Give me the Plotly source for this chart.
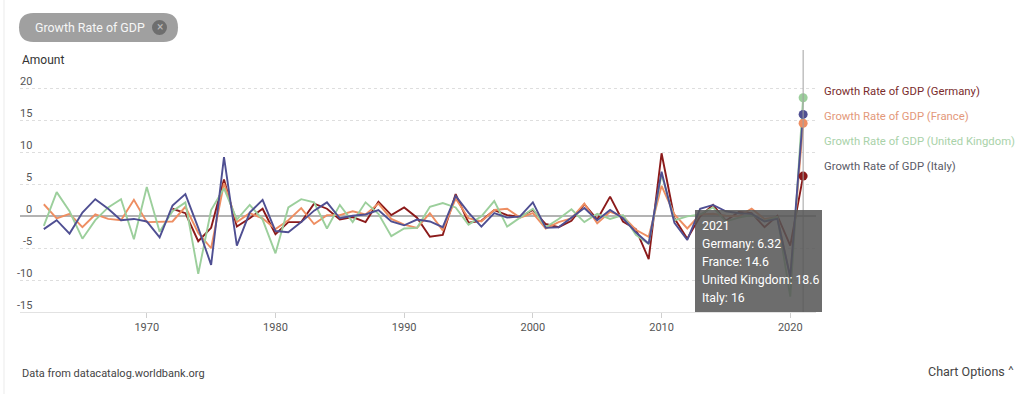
import plotly.graph_objects as go

# ---------------- data ----------------
years = list(range(1962, 2022))

germany = [None] * 10 + [
    1.2, 0.5, -3.9, -1.8, 5.8, -1.6, -0.3, 1.2, -2.8, -0.9,
    -0.9, 2.0, 1.2, -0.5, -0.1, -0.9, 2.3, 0.2, 1.4, -0.2,
    -3.2, -2.9, 3.5, -1.0, -0.7, 1.0, 0.2, -0.1, 1.0, -1.2,
    -1.7, -0.7, 1.9, -0.5, 3.1, -0.8, -2.0, -6.7, 9.9, -0.3,
    -3.5, 0.0, 1.8, -0.7, 0.7, 0.5, -1.7, 0.1, -4.6, 6.32,
]
france = [
    1.9, -0.3, 0.4, -1.7, 0.3, -0.4, -0.6, 2.6, -0.9, -0.8,
    -0.8, 1.5, -2.6, -5.0, 5.2, -0.9, 0.5, -0.3, -2.0, -0.6,
    1.3, -1.2, 0.2, 0.2, 0.8, 0.3, 2.0, -0.4, -1.3, -1.8,
    0.5, -2.2, 2.8, -0.3, -0.8, 1.0, 1.2, -0.2, 0.5, -1.9,
    -0.9, -0.3, 2.0, -1.1, 0.7, 0.0, -2.1, -3.2, 4.8, 0.3,
    -1.9, 0.3, 0.4, 0.1, 0.0, 1.2, -0.4, -0.1, -9.6, 14.6,
]
united_kingdom = [
    -1.5, 3.8, 0.8, -3.5, -0.6, 1.4, 2.7, -3.6, 4.6, -2.4,
    0.8, 2.2, -9.0, 1.0, 4.4, -0.5, 1.8, -0.5, -5.8, 1.4,
    2.7, 2.2, -1.9, 1.8, -0.9, 2.2, 0.4, -3.1, -1.9, -1.8,
    1.5, 2.1, 1.4, -1.3, 0.0, 2.4, -1.6, -0.2, 1.2, -1.7,
    -0.4, 1.1, -0.9, 0.4, -0.4, 0.2, -2.9, -4.3, 6.6, -0.6,
    0.0, 0.3, 1.4, -0.8, -0.2, 0.2, -0.7, -0.1, -12.6, 18.6,
]
italy = [
    -2.0, -0.6, -2.7, 0.6, 2.7, 1.2, -0.6, -0.4, -0.8, -3.3,
    1.7, 3.5, -1.8, -7.6, 9.3, -4.6, 0.6, 2.6, -2.3, -2.5,
    -0.9, 0.9, 2.2, -0.3, 0.1, 0.3, 1.0, -0.8, -1.4, -0.5,
    -0.8, -1.7, 3.2, 0.6, -1.6, 0.5, -0.2, 0.0, 2.2, -1.8,
    -1.7, -0.2, 1.3, -0.6, 1.0, -0.3, -2.5, -4.3, 7.0, -1.0,
    -3.7, 1.2, 1.8, 0.8, 0.5, 0.4, -0.8, -0.4, -9.5, 16.0,
]

countries = ["Germany", "France", "United Kingdom", "Italy"]
series = [germany, france, united_kingdom, italy]
line_colors = ["#8b1a1a", "#ee8e62", "#9ccf9c", "#4f4f92"]
legend_colors = ["#7a2c2c", "#e3987a", "#a9d2a9", "#5a5a66"]

y_ticks = [-15, -10, -5, 0, 5, 10, 15, 20]
x_ticks = [1970, 1980, 1990, 2000, 2010, 2020]
hover_year = 2021

# ---------------- layout geometry ----------------
W, H = 1024, 394
L, R, T, B = 20, 208, 57, 82
PW, PH = W - L - R, H - T - B


def px(x):
    return (x - L) / PW


def py(y):
    return (H - B - y) / PH


FONT = "Segoe UI, Roboto, Lato, sans-serif"

fig = go.Figure()

for name, vals, col in zip(countries, series, line_colors):
    fig.add_trace(go.Scatter(
        x=years, y=vals, mode="lines", name=name,
        line=dict(color=col, width=1.9), showlegend=False,
        hoverinfo="skip",
    ))

for name, vals, col in zip(countries, series, line_colors):
    fig.add_trace(go.Scatter(
        x=[hover_year], y=[vals[years.index(hover_year)]], mode="markers",
        marker=dict(color=col, size=9), showlegend=False, hoverinfo="skip",
    ))

shapes = []
# faint page border on the left
shapes.append(dict(type="line", xref="paper", yref="paper",
                   x0=px(4), x1=px(4), y0=py(0), y1=py(H),
                   line=dict(color="#ebebeb", width=1)))
# hover vertical line
shapes.append(dict(type="line", xref="x", yref="paper",
                   x0=hover_year, x1=hover_year, y0=0, y1=py(50),
                   line=dict(color="#a0a0a0", width=1), layer="above"))
# tooltip box
shapes.append(dict(type="rect", xref="paper", yref="paper",
                   x0=px(695), x1=px(822), y0=py(312), y1=py(210),
                   fillcolor="rgba(85,85,85,0.86)", line=dict(width=0),
                   layer="above"))
# pill
pill_path = ("M 33.5 -13 L 163.5 -13 Q 178 -13 178 -27.5 Q 178 -42 163.5 -42 "
             "L 33.5 -42 Q 19 -42 19 -27.5 Q 19 -13 33.5 -13 Z")
shapes.append(dict(type="path", xref="paper", yref="paper",
                   xsizemode="pixel", ysizemode="pixel",
                   xanchor=px(0), yanchor=py(0), path=pill_path,
                   fillcolor="#a0a0a0", line=dict(width=0)))
shapes.append(dict(type="circle", xref="paper", yref="paper",
                   xsizemode="pixel", ysizemode="pixel",
                   xanchor=px(159.5), yanchor=py(27.5),
                   x0=-7.5, x1=7.5, y0=-7.5, y1=7.5,
                   fillcolor="#6e6e6e", line=dict(width=0)))

ann = []
ann.append(dict(text="Growth Rate of GDP", x=px(33), y=py(27.5), xref="paper", yref="paper",
                xanchor="left", yanchor="middle", showarrow=False,
                font=dict(family=FONT, size=12.4, color="#f6f6f6")))
ann.append(dict(text="×", x=px(159.5), y=py(27.5), xref="paper", yref="paper",
                xanchor="center", yanchor="middle", showarrow=False,
                font=dict(family=FONT, size=12, color="#b8b8b8")))
ann.append(dict(text="Amount", x=px(20), y=py(60), xref="paper", yref="paper",
                xanchor="left", yanchor="middle", showarrow=False,
                font=dict(family=FONT, size=12, color="#333333")))

for v in y_ticks:
    ann.append(dict(text=str(v), x=px(34), y=v, xref="paper", yref="y",
                    xanchor="right", yanchor="middle", yshift=7, showarrow=False,
                    font=dict(family=FONT, size=11, color="#555555")))

legend_y = [92, 116.5, 141, 166]
for name, col, ly in zip(countries, legend_colors, legend_y):
    ann.append(dict(text=f"Growth Rate of GDP ({name})", x=px(822), y=py(ly),
                    xref="paper", yref="paper", xanchor="left", yanchor="middle",
                    showarrow=False, font=dict(family=FONT, size=11.3, color=col)))

tip_lines = [str(hover_year)] + [
    f"{n}: {s[years.index(hover_year)]:g}" for n, s in zip(countries, series)
]
tip_y = [225.5, 243.5, 262, 280, 298]
for t, ty in zip(tip_lines, tip_y):
    ann.append(dict(text=t, x=px(700), y=py(ty), xref="paper", yref="paper",
                    xanchor="left", yanchor="middle", showarrow=False,
                    font=dict(family=FONT, size=12.3, color="#ffffff")))

ann.append(dict(text="Data from datacatalog.worldbank.org", x=px(20), y=py(373),
                xref="paper", yref="paper", xanchor="left", yanchor="middle",
                showarrow=False, font=dict(family=FONT, size=11, color="#444444")))
ann.append(dict(text="Chart Options ˄", x=px(1016), y=py(371),
                xref="paper", yref="paper", xanchor="right", yanchor="middle",
                showarrow=False, font=dict(family=FONT, size=12.5, color="#444444")))

fig.update_layout(
    width=W, height=H,
    margin=dict(l=L, r=R, t=T, b=B, pad=0),
    paper_bgcolor="white", plot_bgcolor="white",
    shapes=shapes, annotations=ann,
    hovermode=False, showlegend=False,
    font=dict(family=FONT),
)
fig.update_xaxes(
    range=[1960.15, 2022.0], tickvals=x_ticks, ticktext=[str(v) for v in x_ticks],
    showgrid=False, zeroline=False, showline=True, linecolor="#e2e2e2",
    ticks="outside", ticklen=5, tickcolor="#cfcfcf",
    tickfont=dict(family=FONT, size=11, color="#555555"),
)
fig.update_yaxes(
    range=[-15, 25], tickvals=y_ticks, showticklabels=False,
    showgrid=True, gridcolor="#dedede", griddash="dot", gridwidth=1,
    zeroline=True, zerolinecolor="#b3b3b3", zerolinewidth=1.5,
)

fig.write_html(
    "out.html",
    config={"displayModeBar": False},
    post_script="document.body.style.margin='0';document.body.style.overflow='hidden';",
)
